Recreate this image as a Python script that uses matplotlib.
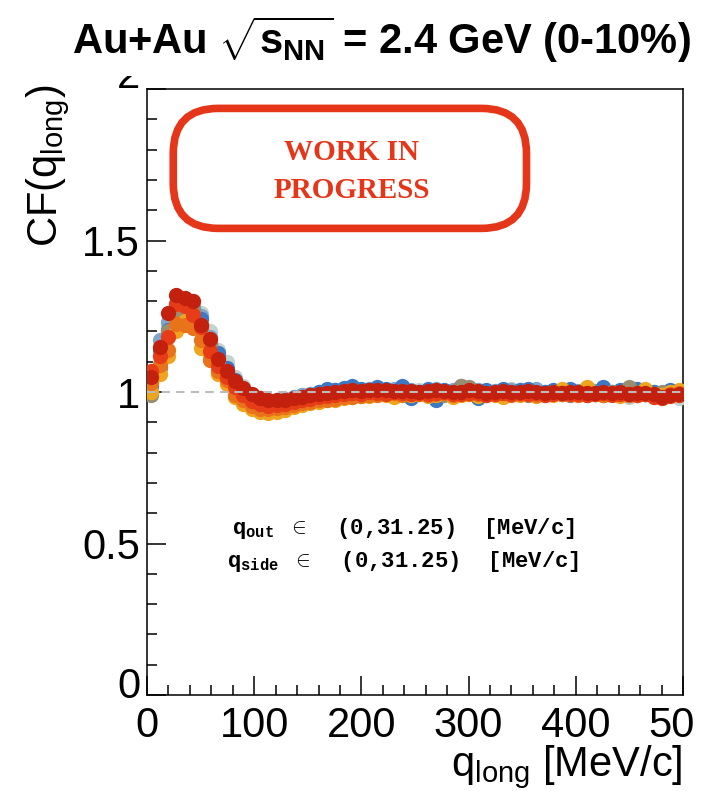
import numpy as np
import matplotlib
matplotlib.use("Agg")
import matplotlib.pyplot as plt
from matplotlib.patches import FancyBboxPatch, Rectangle
from matplotlib.transforms import Bbox, TransformedBbox, ScaledTranslation

plt.rcParams['font.family'] = ['Liberation Sans', 'DejaVu Sans']
plt.rcParams['mathtext.fontset'] = 'custom'
plt.rcParams['mathtext.rm'] = 'Liberation Sans'
plt.rcParams['mathtext.it'] = 'Liberation Sans:italic'
plt.rcParams['mathtext.bf'] = 'Liberation Sans:bold'
plt.rcParams['mathtext.tt'] = 'Liberation Mono:bold'

# q_long bin centres: 64 bins of 7.8125 MeV/c between 0 and 500
q_edges = np.linspace(0, 500, 65)
q_long = 0.5 * (q_edges[:-1] + q_edges[1:])

cf_grey = [1.0, 1.1, 1.22, 1.28, 1.3, 1.28, 1.26, 1.2, 1.14, 1.1, 1.05, 1.02, 0.995, 0.98, 0.972, 0.975,
           0.978, 0.985, 0.99, 0.995, 1.0, 1.005, 1.0, 1.005, 1.008, 1.0, 1.005, 1.003, 1.0, 1.005, 1.0, 1.003,
           1.006, 1.0, 1.005, 1.0, 1.003, 1.0, 1.002, 1.006, 1.0, 1.004, 1.0, 1.01, 1.005, 1.0, 1.003, 0.995,
           1.0, 1.004, 0.99, 1.0, 0.995, 1.003, 0.99, 1.0, 0.997, 0.985, 0.99, 0.995, 0.985, 0.98, 0.99, 0.98]
cf_lightblue = [1.03, 1.17, 1.232, 1.28, 1.3, 1.285, 1.25, 1.18, 1.12, 1.07, 1.03, 1.0, 0.985, 0.975, 0.97, 0.972,
                0.976, 0.982, 0.99, 0.995, 1.0, 1.006, 1.005, 1.008, 1.01, 1.006, 1.01, 1.005, 1.0, 1.01, 1.005, 1.008,
                1.0, 1.005, 1.01, 1.0, 1.005, 1.003, 1.0, 1.006, 1.0, 1.004, 1.002, 1.008, 1.0, 1.004, 1.01, 1.0,
                1.003, 1.006, 1.0, 1.004, 1.0, 1.002, 1.005, 0.998, 1.002, 1.0, 1.004, 0.998, 1.0, 0.997, 1.0, 0.995]
cf_blue = [1.02, 1.14, 1.205, 1.29, 1.30, 1.27, 1.24, 1.16, 1.128, 1.08, 1.04, 1.0, 0.98, 0.97, 0.96, 0.965,
           0.97, 0.978, 0.985, 0.99, 1.0, 1.01, 1.008, 1.012, 1.02, 1.01, 1.005, 1.015, 1.01, 0.99, 1.02, 0.98,
           1.0, 1.01, 0.975, 1.005, 1.0, 1.02, 1.01, 0.98, 1.005, 1.0, 1.01, 0.995, 1.005, 1.01, 0.99, 1.0,
           1.005, 0.995, 1.01, 1.0, 1.0, 0.995, 1.015, 1.0, 1.005, 0.99, 1.01, 0.995, 1.0, 0.99, 1.005, 0.995]
cf_taupe = [0.99, 1.08, 1.2, 1.26, 1.28, 1.27, 1.22, 1.16, 1.1, 1.06, 1.02, 0.99, 0.96, 0.94, 0.935, 0.94,
            0.948, 0.955, 0.962, 0.97, 0.975, 0.98, 0.985, 0.985, 0.99, 0.995, 0.99, 0.995, 1.0, 0.993, 0.997, 0.99,
            0.995, 1.0, 0.995, 0.99, 0.997, 1.02, 1.015, 0.99, 0.995, 1.0, 0.99, 0.995, 0.998, 0.99, 0.995, 0.99,
            1.0, 0.995, 0.99, 0.998, 0.99, 0.995, 0.99, 1.0, 0.995, 1.015, 0.99, 0.995, 0.99, 1.0, 0.99, 0.995]
cf_yellow = [1.0, 1.06, 1.12, 1.2, 1.235, 1.22, 1.145, 1.12, 1.06, 1.025, 0.985, 0.96, 0.945, 0.935, 0.93, 0.935,
             0.942, 0.95, 0.958, 0.963, 0.968, 0.972, 0.975, 0.98, 0.983, 0.987, 0.988, 0.99, 0.99, 0.985, 0.992, 0.99,
             0.995, 0.988, 0.99, 0.997, 0.985, 0.99, 0.993, 0.988, 0.995, 0.99, 0.985, 0.993, 0.99, 0.996, 0.988, 0.992,
             0.99, 1.01, 0.995, 0.99, 1.015, 0.993, 0.99, 0.996, 0.988, 0.992, 0.99, 1.01, 0.995, 0.99, 1.0, 1.005]
cf_orange = [1.03, 1.09, 1.14, 1.225, 1.22, 1.21, 1.17, 1.105, 1.07, 1.04, 0.99, 0.975, 0.955, 0.945, 0.945, 0.948,
             0.95, 0.956, 0.963, 0.968, 0.972, 0.975, 0.978, 0.983, 0.985, 0.988, 0.99, 0.99, 0.994, 0.998, 0.99, 0.992,
             0.995, 0.99, 0.994, 0.998, 0.99, 0.995, 0.992, 0.995, 0.99, 0.993, 0.996, 0.99, 0.993, 0.995, 0.99, 0.994,
             0.997, 0.992, 0.994, 0.99, 0.996, 0.993, 0.99, 0.995, 0.993, 0.99, 0.995, 0.992, 0.99, 0.985, 0.994, 0.998]
cf_redorange = [1.07, 1.12, 1.18, 1.29, 1.285, 1.255, 1.215, 1.135, 1.085, 1.05, 1.015, 0.99, 0.97, 0.96, 0.955, 0.958,
                0.962, 0.966, 0.972, 0.978, 0.982, 0.986, 0.99, 0.993, 0.996, 0.994, 1.0, 0.997, 0.995, 0.999, 0.996, 0.995,
                0.998, 0.994, 0.997, 1.0, 0.995, 0.993, 0.998, 0.996, 0.99, 0.995, 0.997, 0.992, 0.996, 0.994, 0.998, 0.99,
                0.993, 0.996, 0.992, 0.995, 0.99, 0.994, 0.996, 0.99, 0.992, 0.994, 0.989, 0.992, 0.985, 0.98, 0.988, 0.99]
cf_darkred = [1.05, 1.15, 1.26, 1.32, 1.31, 1.30, 1.22, 1.175, 1.11, 1.07, 1.035, 1.012, 0.995, 0.98, 0.975, 0.972,
              0.975, 0.98, 0.983, 0.99, 0.993, 0.996, 1.0, 1.004, 1.006, 1.003, 1.008, 1.006, 1.005, 1.002, 1.004, 1.003,
              1.0, 1.002, 1.005, 1.004, 1.0, 1.001, 1.006, 1.003, 0.998, 1.0, 1.002, 1.001, 0.999, 1.003, 1.0, 0.998,
              1.001, 0.997, 1.0, 0.999, 0.996, 0.998, 1.0, 0.997, 0.999, 0.995, 0.998, 0.996, 0.993, 0.985, 0.99, 0.994]

series = [cf_grey, cf_lightblue, cf_blue, cf_taupe, cf_yellow, cf_orange, cf_redorange, cf_darkred]
colors = ['#c4d3cf', '#7fa6cd', '#3c78c3', '#9a8d71', '#efa51d', '#e8731b', '#e63c17', '#c3200e']

fig = plt.figure(figsize=(7.18, 7.91), dpi=100)
ax = fig.add_axes([147 / 718, 96 / 791, 536 / 718, 606 / 791])

for vals, c in zip(series, colors):
    ax.plot(q_long[:len(vals)], vals, 'o', color=c, ms=11, mew=0, zorder=3)

ax.axhline(1.0, color='#bbbbbb', ls=(0, (4, 3)), lw=1.5, zorder=4)

ax.set_xlim(0, 500)
ax.set_ylim(0, 2)
ax.set_xticks([0, 100, 200, 300, 400, 500])
ax.set_xticklabels(['0', '100', '200', '300', '400', '500'])
ax.set_xticks(np.arange(0, 501, 20), minor=True)
ax.set_yticks([0, 0.5, 1, 1.5, 2])
ax.set_yticklabels(['0', '0.5', '1', '1.5', '2'])
ax.set_yticks(np.arange(0, 2.01, 0.1), minor=True)
ax.tick_params(which='both', direction='in', width=1.1, top=False, right=False, labelsize=30)
ax.tick_params(which='major', length=14)
ax.tick_params(which='minor', length=7)
ax.tick_params(axis='x', pad=8)
ax.tick_params(axis='y', pad=5)
for s in ax.spines.values():
    s.set_linewidth(1.1)

# the last x label is cut off by the canvas edge in the original
clip = TransformedBbox(Bbox([[0, 0], [695 / 718, 1]]), fig.transFigure)
for lab in ax.get_xticklabels():
    lab.set_clip_box(clip)
    lab.set_clip_on(True)

# end labels of the y axis sit a bit higher than their ticks
ylabs = ax.get_yticklabels()
ylabs[0].set_transform(ylabs[0].get_transform() + ScaledTranslation(0, 12 / 100, fig.dpi_scale_trans))
ylabs[-1].set_transform(ylabs[-1].get_transform() + ScaledTranslation(0, 16 / 100, fig.dpi_scale_trans))

ax.set_ylabel(r'CF(q$_{\mathrm{long}}$)', fontsize=30, loc='top')
ax.yaxis.set_label_coords(-0.14, 1.007)
ax.set_xlabel(r'q$_{\mathrm{long}}$ [MeV/c]', fontsize=30, loc='right')
ax.xaxis.set_label_coords(1.0, -0.08)

ax.text(0.159, 0.274, r'$\mathtt{q}_{\mathtt{out}}$ $\in$  (0,31.25)  [MeV/c]', transform=ax.transAxes,
        ha='left', va='center', fontsize=16, fontweight='bold', family='Liberation Mono')
ax.text(0.150, 0.22, r'$\mathtt{q}_{\mathtt{side}}$ $\in$  (0,31.25)  [MeV/c]', transform=ax.transAxes,
        ha='left', va='center', fontsize=16, fontweight='bold', family='Liberation Mono')

# work in progress stamp
wip_red = '#e5361a'
box = FancyBboxPatch((0.049, 0.770), 0.659, 0.198, transform=ax.transAxes,
                     boxstyle='round,pad=0.0,rounding_size=0.084', mutation_aspect=0.884,
                     fc='white', ec=wip_red, lw=5.5, zorder=5)
ax.add_patch(box)
ax.text(0.382, 0.896, 'WORK IN', transform=ax.transAxes, ha='center', va='center',
        fontsize=21, fontweight='bold', family='Liberation Serif', color=wip_red, zorder=6)
ax.text(0.382, 0.833, 'PROGRESS', transform=ax.transAxes, ha='center', va='center',
        fontsize=21, fontweight='bold', family='Liberation Serif', color=wip_red, zorder=6)

# the top of the "2" label is hidden behind the title pad
fig.add_artist(Rectangle((0, 1 - 76 / 791), 1, 76 / 791, transform=fig.transFigure,
                         fc='white', ec='none', zorder=5))
fig.text(381 / 718, 1 - 40 / 791, r'Au+Au $\sqrt{\mathbf{s}_{\mathbf{NN}}}$ = 2.4 GeV (0-10%)',
         ha='center', va='center', fontsize=30, fontweight='bold', zorder=6)

fig.savefig('out.png', dpi=100)
